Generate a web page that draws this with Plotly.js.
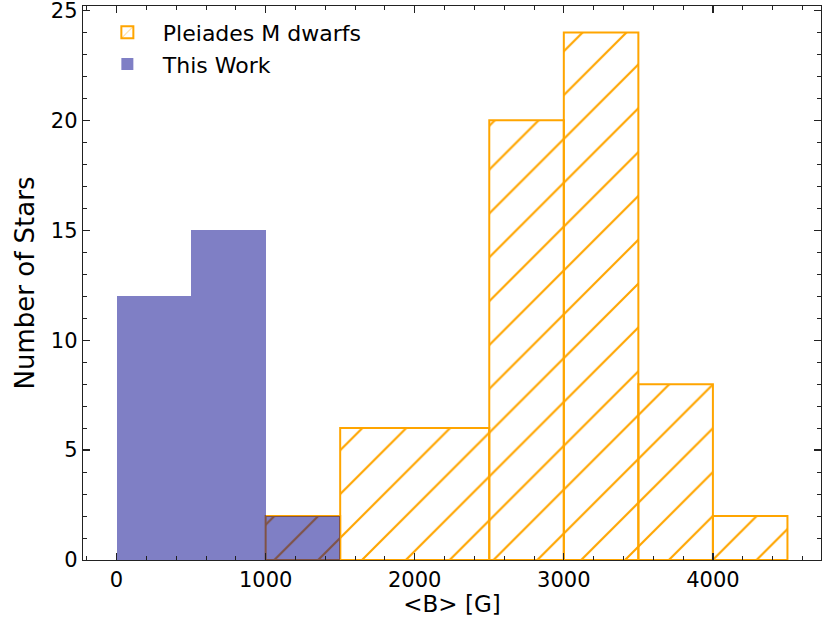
<!DOCTYPE html>
<html>
<head>
<meta charset="utf-8">
<script src="https://cdn.plot.ly/plotly-3.0.1.min.js"></script>
<style>
  html, body { margin: 0; padding: 0; background: #fff; }
  #chart { width: 830px; height: 623px; }
</style>
</head>
<body>
<div id="chart"></div>
<script>
// histogram bins (edges in G) and counts
var pleiadesLo = [1000, 1500, 2500, 3000, 3500, 4000];
var pleiadesHi = [1500, 2500, 3000, 3500, 4000, 4500];
var pleiadesCounts = [2, 6, 20, 24, 8, 2];

var workLo = [0, 500, 1000];
var workHi = [500, 1000, 1500];
var workCounts = [12, 15, 2];

var xTicks = [0, 1000, 2000, 3000, 4000];
var yTicks = [0, 5, 10, 15, 20, 25];

function centers(lo, hi) {
  return lo.map(function (v, i) { return (v + hi[i]) / 2; });
}
function widths(lo, hi) {
  return lo.map(function (v, i) { return hi[i] - v; });
}

var orange = '#ffa500';

var pleiades = {
  type: 'bar',
  name: 'Pleiades M dwarfs',
  x: centers(pleiadesLo, pleiadesHi),
  y: pleiadesCounts,
  width: widths(pleiadesLo, pleiadesHi),
  marker: {
    color: orange,
    line: { color: orange, width: 2 },
    pattern: { shape: '/', size: 31, solidity: 0.07, fillmode: 'replace' }
  },
  hoverinfo: 'x+y'
};

var work = {
  type: 'bar',
  name: 'This Work',
  x: centers(workLo, workHi),
  y: workCounts,
  width: widths(workLo, workHi),
  marker: {
    color: 'rgba(0,0,139,0.5)',
    line: { width: 0 }
  },
  hoverinfo: 'x+y'
};

var axisCommon = {
  showline: true,
  mirror: 'allticks',
  linecolor: '#222',
  linewidth: 1.3,
  ticks: 'inside',
  ticklen: 7,
  tickwidth: 1.2,
  tickcolor: '#222',
  showgrid: false,
  zeroline: false,
  ticklabeloverflow: 'allow',
  tickfont: { family: 'DejaVu Sans', size: 21, color: '#000' }
};

var layout = {
  width: 830,
  height: 623,
  margin: { l: 83, r: 9, t: 6, b: 63 },
  paper_bgcolor: '#fff',
  plot_bgcolor: '#fff',
  barmode: 'overlay',
  bargap: 0,
  font: { family: 'DejaVu Sans', color: '#000' },
  showlegend: true,
  legend: {
    x: 0.012, y: 0.99, xanchor: 'left', yanchor: 'top',
    bgcolor: 'rgba(0,0,0,0)',
    font: { family: 'DejaVu Sans', size: 22, color: '#000' },
    itemwidth: 61
  },
  xaxis: Object.assign({}, axisCommon, {
    range: [-225, 4725],
    tickvals: xTicks,
    ticktext: xTicks.map(String),
    minor: { dtick: 200, tick0: 0, ticks: 'inside', ticklen: 4, tickwidth: 1, tickcolor: '#222' },
    title: { text: '&lt;B&gt; [G]', font: { family: 'DejaVu Sans', size: 23 }, standoff: 5 }
  }),
  yaxis: Object.assign({}, axisCommon, {
    range: [0, 25.2],
    tickvals: yTicks,
    ticktext: yTicks.map(String),
    minor: { dtick: 1, tick0: 0, ticks: 'inside', ticklen: 4, tickwidth: 1, tickcolor: '#222' },
    title: { text: 'Number of Stars', font: { family: 'DejaVu Sans', size: 26 }, standoff: 8 }
  })
};

Plotly.newPlot('chart', [pleiades, work], layout, { displayModeBar: false, staticPlot: true });
</script>
</body>
</html>
